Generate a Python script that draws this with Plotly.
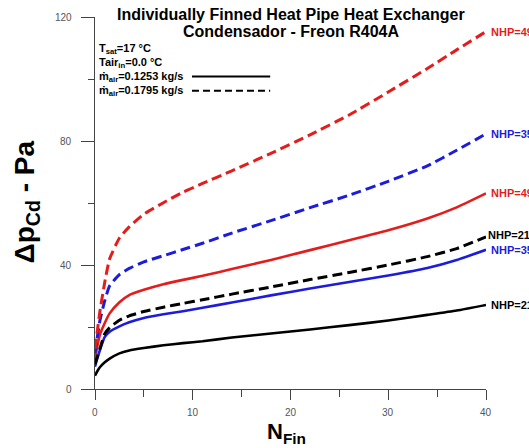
import plotly.graph_objects as go

# ---- data ----
n_fin = [0, 0.25, 0.5, 1, 1.5, 2.5, 3.5, 5, 7, 9, 11, 14, 18, 22, 26, 30, 34, 37, 40]

dp_nhp21_m1253 = [4.3, 5.8, 7.0, 8.6, 9.8, 11.5, 12.4, 13.2, 14.1, 14.8, 15.4, 16.6, 17.9, 19.2, 20.6, 22.1, 23.9, 25.3, 27.1]
dp_nhp35_m1253 = [7.2, 10.0, 12.5, 16.8, 18.5, 20.2, 21.5, 22.9, 24.1, 25.1, 26.2, 27.9, 30.2, 32.4, 34.5, 36.6, 39.0, 41.6, 44.9]
dp_nhp49_m1253 = [9.4, 14.0, 17.5, 21.3, 24.4, 28.0, 30.3, 32.0, 33.8, 35.2, 36.5, 38.7, 41.6, 44.8, 48.0, 51.2, 55.0, 58.6, 63.1]
dp_nhp21_m1795 = [8.0, 10.5, 13.0, 17.8, 19.8, 22.2, 23.6, 25.0, 26.4, 27.6, 28.8, 30.6, 32.9, 35.3, 37.6, 40.0, 42.7, 45.3, 49.1]
dp_nhp35_m1795 = [11.6, 17.0, 22.0, 28.5, 33.3, 36.9, 38.9, 41.0, 43.0, 45.0, 47.0, 50.3, 54.3, 58.5, 62.5, 67.0, 72.0, 77.0, 82.3]
dp_nhp49_m1795 = [13.0, 19.0, 25.0, 34.5, 42.0, 48.7, 52.3, 56.4, 60.1, 63.5, 66.3, 70.4, 76.0, 82.0, 88.4, 95.8, 103.4, 109.4, 115.3]

series = [
    ("NHP=21", dp_nhp21_m1253, "#000000", "solid"),
    ("NHP=35", dp_nhp35_m1253, "#1c1cdc", "solid"),
    ("NHP=49", dp_nhp49_m1253, "#e41c1c", "solid"),
    ("NHP=21", dp_nhp21_m1795, "#000000", "dashed"),
    ("NHP=35", dp_nhp35_m1795, "#1c1cdc", "dashed"),
    ("NHP=49", dp_nhp49_m1795, "#e41c1c", "dashed"),
]

x_ticks = [0, 10, 20, 30, 40]
y_ticks = [0, 40, 80, 120]

FONT = "Liberation Sans, Arial, sans-serif"
TICK_COL = "#555555"

fig = go.Figure()
for name, vals, col, style in series:
    fig.add_trace(go.Scatter(
        x=n_fin, y=vals, mode="lines", name=name,
        line=dict(color=col, width=2.6 if style == "solid" else 3,
                  dash="solid" if style == "solid" else "10px,5px",
                  shape="spline", smoothing=0.5),
        showlegend=False, hoverinfo="skip"))

# end labels
for name, vals, col, style in series:
    special = (style == "dashed" and name == "NHP=21")
    fig.add_annotation(x=n_fin[-1], y=vals[-1], xref="x", yref="y",
                       text="<b>%s</b>" % name, showarrow=False,
                       xanchor="left", yanchor="middle",
                       xshift=0 if special else 3,
                       yshift=2 if special else 0,
                       font=dict(family=FONT, size=11, color=col))

# tick labels (placed explicitly)
for xv in x_ticks:
    fig.add_annotation(x=xv, y=-0.0645, xref="x", yref="paper", text=str(xv),
                       showarrow=False, xanchor="center", yanchor="middle",
                       font=dict(family=FONT, size=10, color=TICK_COL))
for yv in y_ticks:
    fig.add_annotation(x=-0.0537, y=yv, xref="paper", yref="y", text=str(yv),
                       showarrow=False, xanchor="right", yanchor="middle",
                       font=dict(family=FONT, size=10, color=TICK_COL))

# legend block
legend_rows = ["T<sub>sat</sub>=17 °C", "Tair<sub>in</sub>=0.0 °C",
               "ṁ<sub>air</sub>=0.1253 kg/s", "ṁ<sub>air</sub>=0.1795 kg/s"]
row_y = [0.913, 0.876, 0.840, 0.802]
for txt, yy in zip(legend_rows, row_y):
    fig.add_annotation(x=0.006, y=yy, xref="paper", yref="paper",
                       text="<b>%s</b>" % txt, showarrow=False,
                       xanchor="left", yanchor="middle",
                       font=dict(family=FONT, size=11, color="#000"))
fig.add_shape(type="line", xref="paper", yref="paper", x0=0.248, x1=0.448,
              y0=row_y[2], y1=row_y[2], line=dict(color="#000", width=2))
fig.add_shape(type="line", xref="paper", yref="paper", x0=0.248, x1=0.448,
              y0=row_y[3], y1=row_y[3], line=dict(color="#000", width=2, dash="7px,4px"))

# titles
fig.add_annotation(x=0.501, y=1.008, xref="paper", yref="paper",
                   text="<b>Individually Finned Heat Pipe Heat Exchanger</b>",
                   showarrow=False, xanchor="center", yanchor="middle",
                   font=dict(family=FONT, size=16, color="#000"))
fig.add_annotation(x=0.501, y=0.962, xref="paper", yref="paper",
                   text="<b>Condensador - Freon R404A</b>",
                   showarrow=False, xanchor="center", yanchor="middle",
                   font=dict(family=FONT, size=16, color="#000"))
fig.add_annotation(x=-0.174, y=0.504, xref="paper", yref="paper",
                   text="<b>Δp<sub>Cd</sub> - Pa</b>", textangle=-90,
                   showarrow=False, xanchor="center", yanchor="middle",
                   font=dict(family=FONT, size=28, color="#000"))
fig.add_annotation(x=0.49, y=-0.118, xref="paper", yref="paper",
                   text="<b>N<sub>Fin</sub></b>",
                   showarrow=False, xanchor="center", yanchor="middle",
                   font=dict(family=FONT, size=22, color="#000"))

axis_col = "#444444"
fig.update_xaxes(range=[0, 40], tickvals=x_ticks, ticks="outside", ticklen=10,
                 tickcolor=axis_col, showline=True, linecolor=axis_col, linewidth=1,
                 showgrid=False, zeroline=False, showticklabels=False,
                 minor=dict(dtick=5, ticks="outside", ticklen=7, tickcolor=axis_col, showgrid=False))
fig.update_yaxes(range=[0, 120], tickvals=y_ticks, ticks="outside", ticklen=13,
                 tickcolor=axis_col, showline=True, linecolor=axis_col, linewidth=1,
                 showgrid=False, zeroline=False, showticklabels=False,
                 minor=dict(dtick=20, ticks="outside", ticklen=6, tickcolor=axis_col, showgrid=False))

fig.update_layout(width=529, height=448, autosize=False,
                  margin=dict(l=95, r=43, t=17, b=59),
                  plot_bgcolor="white", paper_bgcolor="white",
                  font=dict(family=FONT))

fig.write_html("out.html")
